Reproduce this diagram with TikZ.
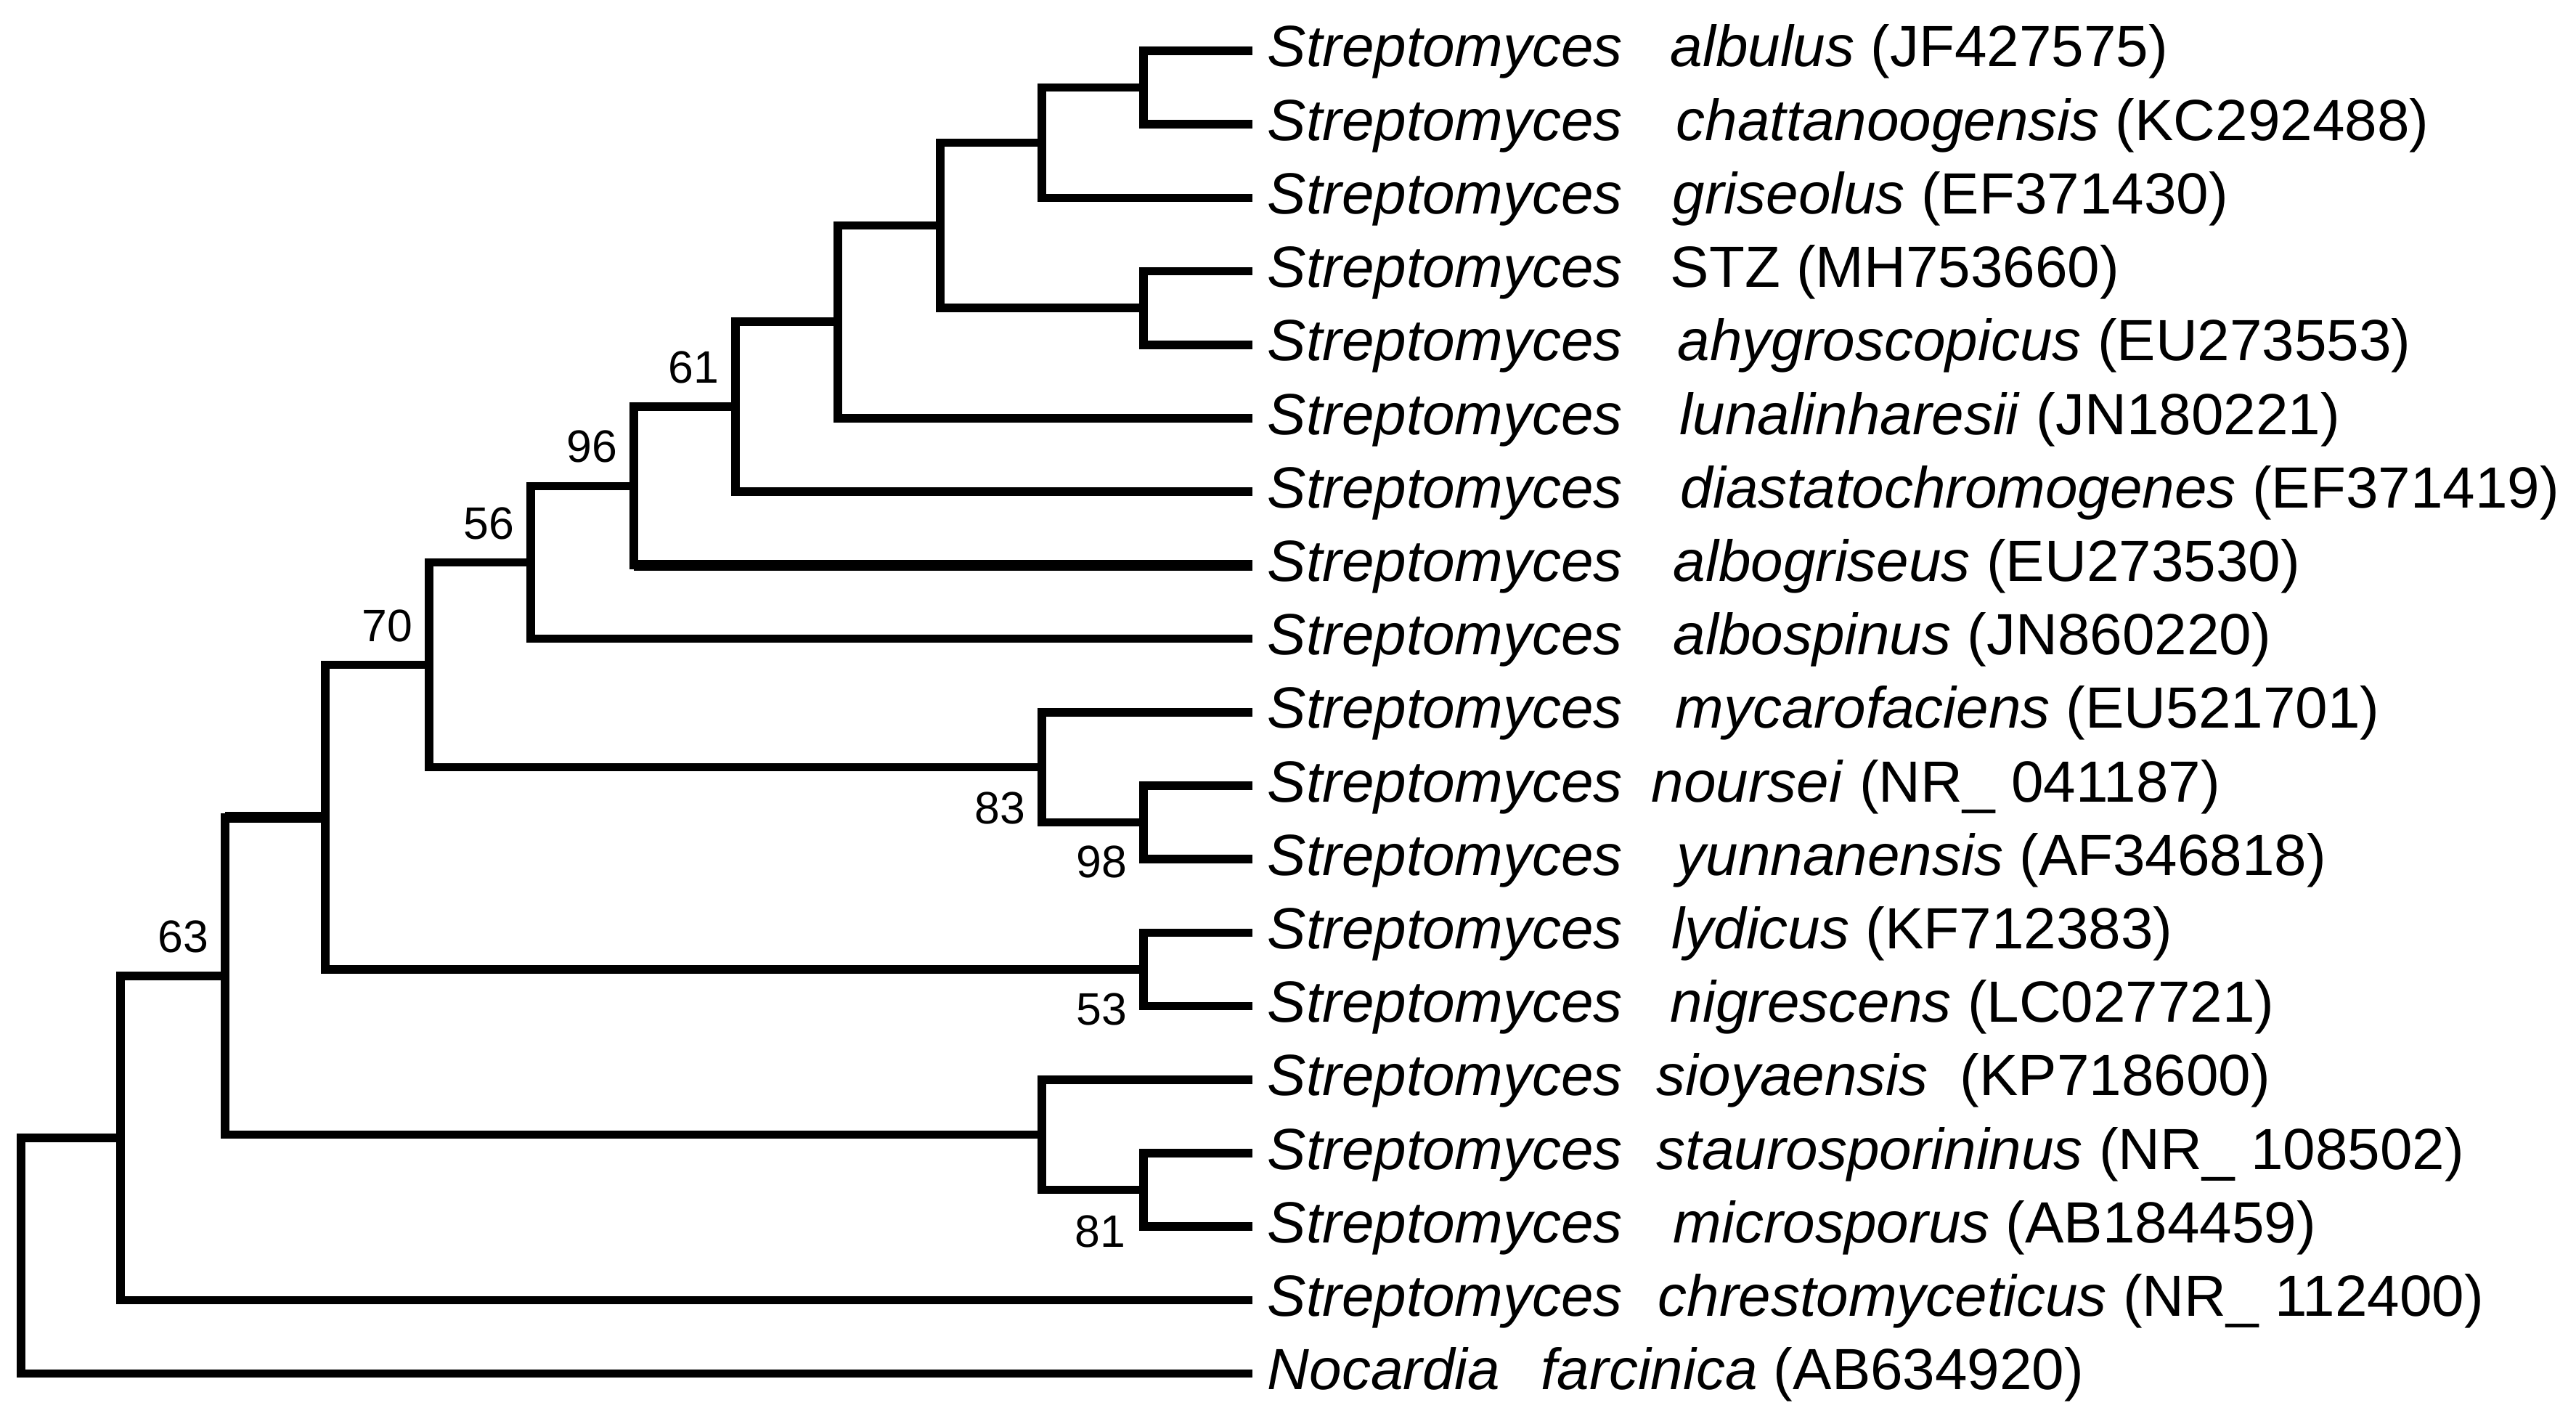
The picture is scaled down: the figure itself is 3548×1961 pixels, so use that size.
\documentclass[tikz,border=0pt]{standalone}
\usepackage{fontspec}
\setmainfont{Liberation Sans}
\usetikzlibrary{calc}
\begin{document}
\begin{tikzpicture}[x=0.01cm,y=-0.01cm,
  br/.style={line width=0.115cm, line join=miter, line cap=butt},
  brthick/.style={line width=0.15cm, line cap=butt},
  taxon/.style={anchor=base west, inner sep=0pt, font=\fontsize{22.76pt}{27pt}\selectfont},
  boot/.style={inner sep=0pt, font=\fontsize{17.8pt}{21pt}\selectfont}]
\useasboundingbox (0,0) rectangle (3548,1961);
% ---- leaf ends
\coordinate (L1) at (1725,70);
\coordinate (L2) at (1725,171.2);
\coordinate (L3) at (1725,272.4);
\coordinate (L4) at (1725,373.6);
\coordinate (L5) at (1725,474.8);
\coordinate (L6) at (1725,576);
\coordinate (L7) at (1725,677.2);
\coordinate (L8) at (1725,778.4);
\coordinate (L9) at (1725,879.6);
\coordinate (L10) at (1725,980.8);
\coordinate (L11) at (1725,1082);
\coordinate (L12) at (1725,1183.2);
\coordinate (L13) at (1725,1284.4);
\coordinate (L14) at (1725,1385.6);
\coordinate (L15) at (1725,1486.8);
\coordinate (L16) at (1725,1588);
\coordinate (L17) at (1725,1689.2);
\coordinate (L18) at (1725,1790.4);
\coordinate (L19) at (1725,1891.6);
% ---- internal nodes
\coordinate (na) at (1575,120.6);
\coordinate (nb) at (1435,196.5);
\coordinate (nd) at (1575,424.2);
\coordinate (nc) at (1295,310.35);
\coordinate (ne) at (1154,443.2);
\coordinate (nf) at (1013,560.2);
\coordinate (ng) at (873,669.3);
\coordinate (nh) at (731,774.4);
\coordinate (n98) at (1575,1132.6);
\coordinate (n83) at (1435,1056.7);
\coordinate (ni) at (591,915.6);
\coordinate (n53) at (1575,1335);
\coordinate (nj) at (448,1125.3);
\coordinate (n81) at (1575,1638.6);
\coordinate (nk) at (1435,1562.7);
\coordinate (nl) at (310,1344);
\coordinate (nm) at (166,1567.2);
\coordinate (nr) at (29,1729.4);
% ---- branches
\draw[br] (L1) -| (na) |- (L2);
\draw[br] (na) -| (nb) |- (L3);
\draw[br] (L4) -| (nd) |- (L5);
\draw[br] (nb) -| (nc) |- (nd);
\draw[br] (nc) -| (ne) |- (L6);
\draw[br] (ne) -| (nf) |- (L7);
\draw[br] (nf) -| (ng) |- (L8);
\draw[brthick] (ng |- L8) -- (L8);
\draw[br] (ng) -| (nh) |- (L9);
\draw[br] (L11) -| (n98) |- (L12);
\draw[br] (L10) -| (n83) |- (n98);
\draw[br] (nh) -| (ni) |- (n83);
\draw[br] (L13) -| (n53) |- (L14);
\draw[br] (ni) -| (nj) |- (n53);
\draw[br] (L16) -| (n81) |- (L17);
\draw[br] (L15) -| (nk) |- (n81);
\draw[br] (nj) -| (nl) |- (nk);
\draw[brthick] (nj) -- (nl |- nj);
\draw[br] (nl) -| (nm) |- (L18);
\draw[br] (nm) -| (nr) |- (L19);
% ---- bootstrap values
\node[boot, anchor=south east] (b61) at ($(nf)+(-22,-31)$) {61};
\node[boot, anchor=south east] (b96) at ($(ng)+(-22,-31)$) {96};
\node[boot, anchor=south east] (b56) at ($(nh)+(-22,-31)$) {56};
\node[boot, anchor=south east] (b70) at ($(ni)+(-22,-31)$) {70};
\node[boot, anchor=south east] (b63) at ($(nl)+(-22,-31)$) {63};
\node[boot, anchor=north east] (b83) at ($(n83)+(-22,33)$) {83};
\node[boot, anchor=north east] (b98) at ($(n98)+(-22,31)$) {98};
\node[boot, anchor=north east] (b53) at ($(n53)+(-22,32)$) {53};
\node[boot, anchor=north east] (b81) at ($(n81)+(-24,34)$) {81};
% ---- taxon labels
\node[taxon] (g1) at (1745,92) {\itshape Streptomyces};
\node[taxon] (s1) at (2300,92) {\textit{albulus} (JF427575)};
\node[taxon] (g2) at (1745,193.2) {\itshape Streptomyces};
\node[taxon] (s2) at (2308,193.2) {\textit{chattanoogensis} (KC292488)};
\node[taxon] (g3) at (1745,294.4) {\itshape Streptomyces};
\node[taxon] (s3) at (2303,294.4) {\textit{griseolus} (EF371430)};
\node[taxon] (g4) at (1745,395.6) {\itshape Streptomyces};
\node[taxon] (s4) at (2300,395.6) {STZ (MH753660)};
\node[taxon] (g5) at (1745,496.8) {\itshape Streptomyces};
\node[taxon] (s5) at (2310,496.8) {\textit{ahygroscopicus} (EU273553)};
\node[taxon] (g6) at (1745,598) {\itshape Streptomyces};
\node[taxon] (s6) at (2313,598) {\textit{lunalinharesii} (JN180221)};
\node[taxon] (g7) at (1745,699.2) {\itshape Streptomyces};
\node[taxon] (s7) at (2314,699.2) {\textit{diastatochromogenes} (EF371419)};
\node[taxon] (g8) at (1745,800.4) {\itshape Streptomyces};
\node[taxon] (s8) at (2304,800.4) {\textit{albogriseus} (EU273530)};
\node[taxon] (g9) at (1745,901.6) {\itshape Streptomyces};
\node[taxon] (s9) at (2304,901.6) {\textit{albospinus} (JN860220)};
\node[taxon] (g10) at (1745,1002.8) {\itshape Streptomyces};
\node[taxon] (s10) at (2307,1002.8) {\textit{mycarofaciens} (EU521701)};
\node[taxon] (g11) at (1745,1104) {\itshape Streptomyces};
\node[taxon] (s11) at (2274,1104) {\textit{noursei} (NR\_ 041187)};
\node[taxon] (g12) at (1745,1205.2) {\itshape Streptomyces};
\node[taxon] (s12) at (2309,1205.2) {\textit{yunnanensis} (AF346818)};
\node[taxon] (g13) at (1745,1306.4) {\itshape Streptomyces};
\node[taxon] (s13) at (2302,1306.4) {\textit{lydicus} (KF712383)};
\node[taxon] (g14) at (1745,1407.6) {\itshape Streptomyces};
\node[taxon] (s14) at (2300,1407.6) {\textit{nigrescens} (LC027721)};
\node[taxon] (g15) at (1745,1508.8) {\itshape Streptomyces};
\node[taxon] (s15) at (2281,1508.8) {\textit{sioyaensis}\ \ (KP718600)};
\node[taxon] (g16) at (1745,1610) {\itshape Streptomyces};
\node[taxon] (s16) at (2281,1610) {\textit{staurosporininus} (NR\_ 108502)};
\node[taxon] (g17) at (1745,1711.2) {\itshape Streptomyces};
\node[taxon] (s17) at (2304,1711.2) {\textit{microsporus} (AB184459)};
\node[taxon] (g18) at (1745,1812.4) {\itshape Streptomyces};
\node[taxon] (s18) at (2283,1812.4) {\textit{chrestomyceticus} (NR\_ 112400)};
\node[taxon] (g19) at (1745,1913.6) {\itshape Nocardia};
\node[taxon] (s19) at (2122,1913.6) {\textit{farcinica} (AB634920)};
\end{tikzpicture}
\end{document}
